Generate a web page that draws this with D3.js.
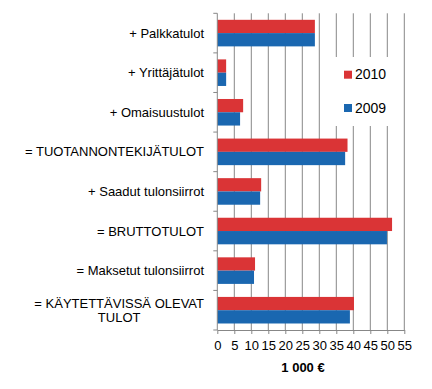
<!DOCTYPE html>
<html>
<head>
<meta charset="utf-8">
<script src="https://cdn.jsdelivr.net/npm/d3@7"></script>
<style>
  body { margin: 0; background: #fff; }
  svg { display: block; font-family: "Liberation Sans", Arial, sans-serif; }
</style>
</head>
<body>
<div id="graf"></div>
<script>
// data (1 000 €)
const categories = [
  "+ Palkkatulot",
  "+ Yrittäjätulot",
  "+ Omaisuustulot",
  "= TUOTANNONTEKIJÄTULOT",
  "+ Saadut tulonsiirrot",
  "= BRUTTOTULOT",
  "= Maksetut tulonsiirrot",
  "= KÄYTETTÄVISSÄ OLEVAT|TULOT"
];
const series = ["2010", "2009"];
const values2010 = [28.7, 2.6, 7.6, 38.3, 12.9, 51.4, 11.1, 40.2];
const values2009 = [28.7, 2.6, 6.7, 37.6, 12.6, 49.9, 10.8, 39.0];
const xTicks = [0, 5, 10, 15, 20, 25, 30, 35, 40, 45, 50, 55];
const axisTitle = "1 000 €";

const colors = { "2010": "#da3436", "2009": "#1a67b0" };
const grey = "#878787";

const width = 432, height = 389;
const mLeft = 217.3, mRight = 404.3, mTop = 13.3, mBottom = 330;

const rows = categories.map((c, i) => ({ cat: c, "2010": values2010[i], "2009": values2009[i] }));

let svg = d3.select("#graf").append("svg")
  .attr("width", width)
  .attr("height", height);

let x = d3.scaleLinear().domain([0, 55]).range([mLeft, mRight]);
let y = d3.scaleBand().domain(categories).range([mTop, mBottom]);
let ySub = d3.scaleBand().domain(series).range([0, y.bandwidth()]).paddingOuter(0.49);

// grid
svg.append("g")
  .selectAll("line")
  .data(xTicks.slice(1))
  .join("line")
  .attr("x1", d => x(d)).attr("x2", d => x(d))
  .attr("y1", mTop).attr("y2", mBottom)
  .attr("stroke", grey).attr("stroke-width", 1);

// legend box hides grid behind
svg.append("rect")
  .attr("x", 330).attr("y", 57)
  .attr("width", 73).attr("height", 69)
  .attr("fill", "#fff");

// bars
const grp = svg.append("g")
  .selectAll("g")
  .data(rows)
  .join("g")
  .attr("transform", d => `translate(0,${y(d.cat)})`);

grp.selectAll("rect")
  .data(d => series.map(s => ({ s, v: d[s] })))
  .join("rect")
  .attr("x", x(0))
  .attr("y", d => ySub(d.s))
  .attr("width", d => x(d.v) - x(0))
  .attr("height", ySub.bandwidth())
  .attr("fill", d => colors[d.s]);

// x axis
const xAxis = svg.append("g")
  .attr("transform", `translate(0,${mBottom})`)
  .call(d3.axisBottom(x).tickValues(xTicks).tickSize(4).tickPadding(7).tickSizeOuter(0));
xAxis.select(".domain").attr("stroke", grey);
xAxis.selectAll(".tick line").attr("stroke", grey);
xAxis.selectAll("text")
  .attr("fill", "#000")
  .style("font-size", "13px")
  .style("font-family", "'Liberation Sans', Arial, sans-serif");

// y axis line + ticks at category boundaries
svg.append("line")
  .attr("x1", x(0)).attr("x2", x(0))
  .attr("y1", mTop).attr("y2", mBottom)
  .attr("stroke", grey);
const bounds = categories.map(c => y(c)).concat([mBottom]);
svg.append("g")
  .selectAll("line")
  .data(bounds)
  .join("line")
  .attr("x1", x(0) - 4).attr("x2", x(0))
  .attr("y1", d => d).attr("y2", d => d)
  .attr("stroke", grey);

// category labels
const labX = 204;
categories.forEach(c => {
  const lines = c.split("|");
  const cy = y(c) + y.bandwidth() / 2;
  if (lines.length === 1) {
    svg.append("text")
      .attr("x", labX).attr("y", cy).attr("dy", "0.35em")
      .attr("text-anchor", "end")
      .style("font-size", "13px")
      .text(lines[0]);
  } else {
    const t1 = svg.append("text")
      .attr("x", labX).attr("y", cy - 7).attr("dy", "0.35em")
      .attr("text-anchor", "end")
      .style("font-size", "13px")
      .text(lines[0]);
    const w = t1.node().getComputedTextLength();
    svg.append("text")
      .attr("x", labX - w / 2).attr("y", cy + 7).attr("dy", "0.35em")
      .attr("text-anchor", "middle")
      .style("font-size", "13px")
      .text(lines[1]);
  }
});

// legend
const leg = svg.append("g")
  .selectAll("g")
  .data(series)
  .join("g")
  .attr("transform", (d, i) => `translate(344,${70.7 + i * 33.3})`);
leg.append("rect")
  .attr("width", 8).attr("height", 8)
  .attr("fill", d => colors[d]);
leg.append("text")
  .attr("x", 11).attr("y", 8.5)
  .style("font-size", "14px")
  .text(d => d);

// axis title
svg.append("text")
  .attr("x", 303).attr("y", 372)
  .attr("text-anchor", "middle")
  .style("font-size", "13px")
  .style("font-weight", "bold")
  .text(axisTitle);
</script>
</body>
</html>
